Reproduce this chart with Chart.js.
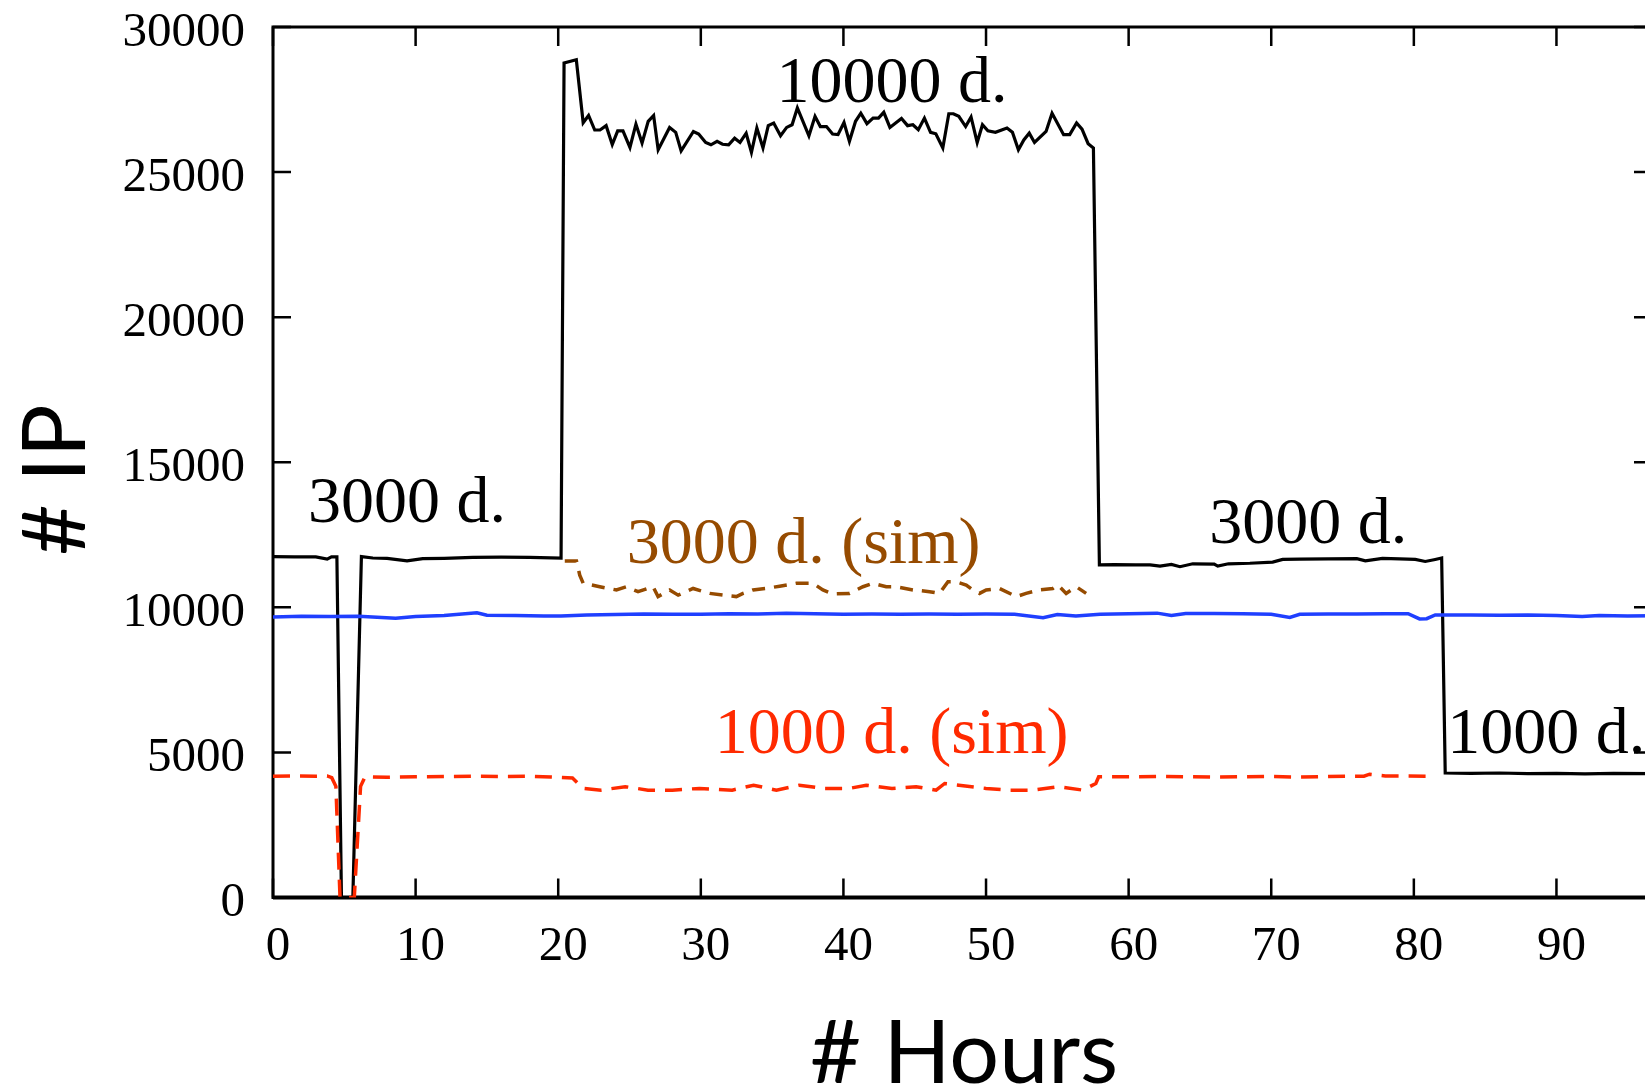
<!DOCTYPE html>
<html>
<head>
<meta charset="utf-8">
<script src="https://cdn.jsdelivr.net/npm/chart.js@4/dist/chart.umd.min.js"></script>
<style>
html, body { margin: 0; padding: 0; background: #fff; overflow: hidden; }
</style>
</head>
<body>
<canvas id="myChart" width="1656" height="1088"></canvas>
<script>
// measured number of IPs (black)
var measuredHours = [0, 1.5, 3, 3.8, 4.1, 4.48, 4.8, 5.6, 6.2, 7, 8, 9.4, 10.5, 12, 14, 16, 18, 20.2,
    20.41, 21.27, 21.75, 22.13, 22.56, 22.93, 23.36, 23.79, 24.17, 24.54, 25.03, 25.45, 25.88, 26.31,
    26.69, 27.01, 27.81, 28.24, 28.62, 29.48, 29.85, 30.34, 30.71, 31.14, 31.52, 31.95, 32.37, 32.75,
    33.18, 33.55, 33.93, 34.36, 34.73, 35.11, 35.59, 36.02, 36.40, 36.77, 37.58, 38.01, 38.38, 38.81,
    39.24, 39.62, 40.04, 40.42, 40.85, 41.22, 41.65, 42.08, 42.46, 42.83, 43.26, 44.07, 44.50, 44.87,
    45.25, 45.68, 46.11, 46.48, 46.97, 47.39, 47.71, 48.09, 48.57, 48.95, 49.38, 49.75, 50.13, 50.66,
    51.47, 51.85, 52.27, 52.65, 53.03, 53.40, 54.21, 54.63, 55.44, 55.87, 56.35, 56.73, 57.16, 57.53,
    57.95, 59, 60.5, 61.5, 62.2, 63, 63.6, 64.5, 66, 66.25, 67, 68.5, 70.1, 70.8, 72, 74, 76, 76.6,
    77.8, 79, 80.1, 80.8, 81.5, 81.95, 82.2, 84, 86, 88, 90, 92, 94, 96.7];
var measuredIps = [11750, 11740, 11740, 11660, 11740, 11740, 0, 0, 11750, 11700, 11690, 11600, 11680, 11690, 11720, 11730, 11720, 11700,
    28760, 28870, 26700, 26950, 26450, 26450, 26600, 25950, 26420, 26420, 25850, 26650, 26000, 26750,
    26950, 25770, 26540, 26370, 25730, 26400, 26310, 26020, 25940, 26060, 25960, 25940, 26170, 26020,
    26340, 25680, 26520, 25830, 26600, 26690, 26250, 26540, 26630, 27210, 26250, 26920, 26570, 26570,
    26310, 26290, 26710, 26060, 26750, 27030, 26670, 26860, 26860, 27060, 26540, 26850, 26600, 26630,
    26460, 26860, 26370, 26320, 25830, 27010, 27010, 26920, 26570, 26900, 26020, 26630, 26420, 26370,
    26520, 26370, 25770, 26110, 26340, 26020, 26400, 27030, 26290, 26290, 26690, 26480, 25980, 25830,
    11460, 11470, 11460, 11460, 11420, 11480, 11400, 11500, 11490, 11420, 11500, 11520, 11560, 11650, 11660, 11670, 11680, 11600,
    11690, 11670, 11650, 11580, 11650, 11700, 4290, 4280, 4290, 4270, 4280, 4260, 4280, 4270];

// unique IPs (blue)
var uniqueHours = [0, 2, 4, 6, 8.6, 10, 12, 14.3, 15, 17, 19, 20.2, 22, 24, 26, 28, 30, 32, 34, 36, 38, 40,
    42, 44, 46, 48, 50, 52, 54, 55, 56.3, 58, 60, 62, 63, 64, 66, 68, 70, 71.3, 72, 74, 76, 78, 79.6,
    80.4, 80.9, 81.5, 84, 86, 88, 90, 91.8, 93, 95, 96.7];
var uniqueIps = [9670, 9690, 9680, 9690, 9620, 9680, 9720, 9815, 9730, 9720, 9700, 9700, 9740, 9750, 9770, 9760, 9760, 9780, 9770, 9800, 9780, 9760,
    9770, 9760, 9770, 9760, 9770, 9760, 9640, 9750, 9700, 9760, 9780, 9800, 9720, 9790, 9790, 9780, 9760, 9650, 9760, 9770, 9770, 9780, 9780,
    9600, 9610, 9740, 9740, 9730, 9740, 9720, 9680, 9720, 9700, 9710];

// simulation with 3000 domains (brown)
var sim3000Hours = [20.46, 21.28, 21.51, 21.75, 22.91, 24.08, 24.78, 25.6, 26.65, 27.0, 27.82, 28.41, 29.46,
    30.62, 31.56, 32.49, 32.96, 33.66, 34.59, 35.53, 36.7, 37.86, 38.56, 39.26, 40.43, 41.37, 42.07, 43.0,
    43.7, 44.87, 46.04, 46.74, 47.33, 47.91, 48.61, 49.08, 49.54, 50.01, 50.95, 52.12, 52.81, 53.75, 54.68,
    55.03, 55.62, 56.32, 57.02];
var sim3000Ips = [11600, 11600, 11110, 10830, 10710, 10600, 10710, 10540, 10710, 10370, 10600, 10420, 10650,
    10480, 10420, 10370, 10480, 10600, 10650, 10730, 10830, 10830, 10600, 10460, 10480, 10710, 10830, 10710,
    10710, 10600, 10540, 10480, 10880, 10880, 10770, 10600, 10480, 10600, 10650, 10370, 10480, 10600, 10650,
    10770, 10480, 10710, 10480];

// simulation with 1000 domains (red)
var sim1000Hours = [0, 1.5, 3, 3.8, 4.12, 4.41, 4.7, 5.7, 6.14, 6.45, 8, 10, 12, 14, 16, 18, 19.5, 21.0, 21.75,
    23, 24.7, 26.3, 28, 29.9, 32.2, 33.7, 35.3, 36.9, 38.6, 40.4, 41.6, 43.4, 45.1, 46.5, 47.1, 48.1, 50.0,
    51.6, 53.3, 55.1, 56.8, 57.7, 57.9, 60, 62, 64, 66, 68, 70, 72, 74, 76.5, 76.9, 78, 80.9];
var sim1000Ips = [4180, 4190, 4180, 4190, 4130, 3830, 0, 0, 3830, 4160, 4140, 4160, 4170, 4180, 4170, 4180, 4150, 4120, 3760,
    3700, 3820, 3700, 3700, 3760, 3700, 3870, 3700, 3870, 3760, 3760, 3870, 3760, 3820, 3700, 3930, 3870, 3760,
    3700, 3700, 3820, 3700, 3930, 4160, 4160, 4170, 4160, 4150, 4160, 4170, 4150, 4170, 4180, 4250, 4190, 4180];

var xTicks = [0, 10, 20, 30, 40, 50, 60, 70, 80, 90];
var yTicks = [0, 5000, 10000, 15000, 20000, 25000, 30000];

// text notes placed at (hour, # IP)
var noteTexts = ["3000 d.", "10000 d.", "3000 d. (sim)", "1000 d. (sim)", "3000 d.", "1000 d."];
var noteHours = [2.45, 35.3, 24.8, 30.97, 65.66, 82.34];
var noteIps = [12940, 27420, 11530, 4980, 12220, 4980];
var noteColors = ["#000000", "#000000", "#964b00", "#ff2a00", "#000000", "#000000"];

function points(xs, ys) {
    return xs.map(function (x, i) { return { x: x, y: ys[i] }; });
}

var serif = "'Liberation Serif', 'Times New Roman', serif";
var sans = "Lato, 'Open Sans', sans-serif";

// gnuplot style box with inward ticks on every side
var framePlugin = {
    id: 'frame',
    beforeDatasetsDraw: function (chart) {
        var ctx = chart.ctx, a = chart.chartArea;
        var xs = chart.scales.x, ys = chart.scales.y;
        ctx.save();
        ctx.strokeStyle = '#000';
        ctx.lineWidth = 3;
        ctx.strokeRect(a.left, a.top, a.right - a.left, a.bottom - a.top);
        ctx.lineWidth = 4;
        ctx.beginPath();
        ctx.moveTo(a.left, a.bottom);
        ctx.lineTo(a.right, a.bottom);
        ctx.stroke();
        ctx.lineWidth = 2.5;
        ctx.beginPath();
        xTicks.forEach(function (v) {
            var px = xs.getPixelForValue(v);
            ctx.moveTo(px, a.bottom);
            ctx.lineTo(px, a.bottom - 19);
            ctx.moveTo(px, a.top);
            ctx.lineTo(px, a.top + 19);
        });
        yTicks.forEach(function (v) {
            var py = ys.getPixelForValue(v);
            ctx.moveTo(a.left, py);
            ctx.lineTo(a.left + 18, py);
            ctx.moveTo(a.right, py);
            ctx.lineTo(a.right - 18, py);
        });
        ctx.stroke();
        ctx.restore();
    },
    afterDraw: function (chart) {
        var ctx = chart.ctx;
        var xs = chart.scales.x, ys = chart.scales.y;
        ctx.save();
        ctx.textBaseline = 'alphabetic';
        ctx.textAlign = 'left';
        ctx.font = '66px ' + serif;
        noteTexts.forEach(function (t, i) {
            ctx.fillStyle = noteColors[i];
            ctx.fillText(t, xs.getPixelForValue(noteHours[i]), ys.getPixelForValue(noteIps[i]));
        });

        // axis titles
        ctx.fillStyle = '#000';
        ctx.font = '88px ' + sans;
        ctx.textAlign = 'center';
        ctx.fillText('# Hours', 964, 1083);
        ctx.translate(85, 480);
        ctx.rotate(-Math.PI / 2);
        ctx.fillText('# IP', 0, 0);
        ctx.restore();
    }
};

new Chart("myChart", {
    type: "line",
    data: {
        datasets: [{
            data: points(sim1000Hours, sim1000Ips),
            borderColor: "#ff2a00",
            borderWidth: 3.5,
            borderDash: [17, 10]
        }, {
            data: points(sim3000Hours, sim3000Ips),
            borderColor: "#964b00",
            borderWidth: 3.5,
            borderDash: [13, 9]
        }, {
            data: points(uniqueHours, uniqueIps),
            borderColor: "#1f3fff",
            borderWidth: 3.5
        }, {
            data: points(measuredHours, measuredIps),
            borderColor: "#000000",
            borderWidth: 3.2
        }]
    },
    options: {
        responsive: false,
        animation: false,
        events: [],
        layout: { padding: { top: 27, right: 4, left: 0, bottom: 0 } },
        elements: {
            point: { radius: 0 },
            line: { tension: 0, fill: false, borderJoinStyle: 'miter' }
        },
        plugins: {
            legend: { display: false },
            tooltip: { enabled: false }
        },
        scales: {
            x: {
                type: "linear",
                min: 0,
                max: 96.7,
                grid: { display: false, drawTicks: false },
                border: { display: false },
                afterBuildTicks: function (scale) {
                    scale.ticks = xTicks.map(function (v) { return { value: v }; });
                },
                afterFit: function (scale) {
                    scale.height = 190.5;
                    scale.paddingLeft = 0;
                    scale.paddingRight = 0;
                },
                ticks: {
                    color: "#000",
                    padding: 25,
                    labelOffset: 5,
                    maxRotation: 0,
                    callback: function (v) { return String(v); },
                    font: { family: serif, size: 49, lineHeight: 1 }
                }
            },
            y: {
                min: 0,
                max: 30000,
                grid: { display: false, drawTicks: false },
                border: { display: false },
                afterBuildTicks: function (scale) {
                    scale.ticks = yTicks.map(function (v) { return { value: v }; });
                },
                afterFit: function (scale) {
                    scale.width = 273;
                    scale.paddingTop = 0;
                    scale.paddingBottom = 0;
                },
                ticks: {
                    color: "#000",
                    padding: 28,
                    labelOffset: 6,
                    callback: function (v) { return String(v); },
                    font: { family: serif, size: 49, lineHeight: 1 }
                }
            }
        }
    },
    plugins: [framePlugin]
});
</script>
</body>
</html>
